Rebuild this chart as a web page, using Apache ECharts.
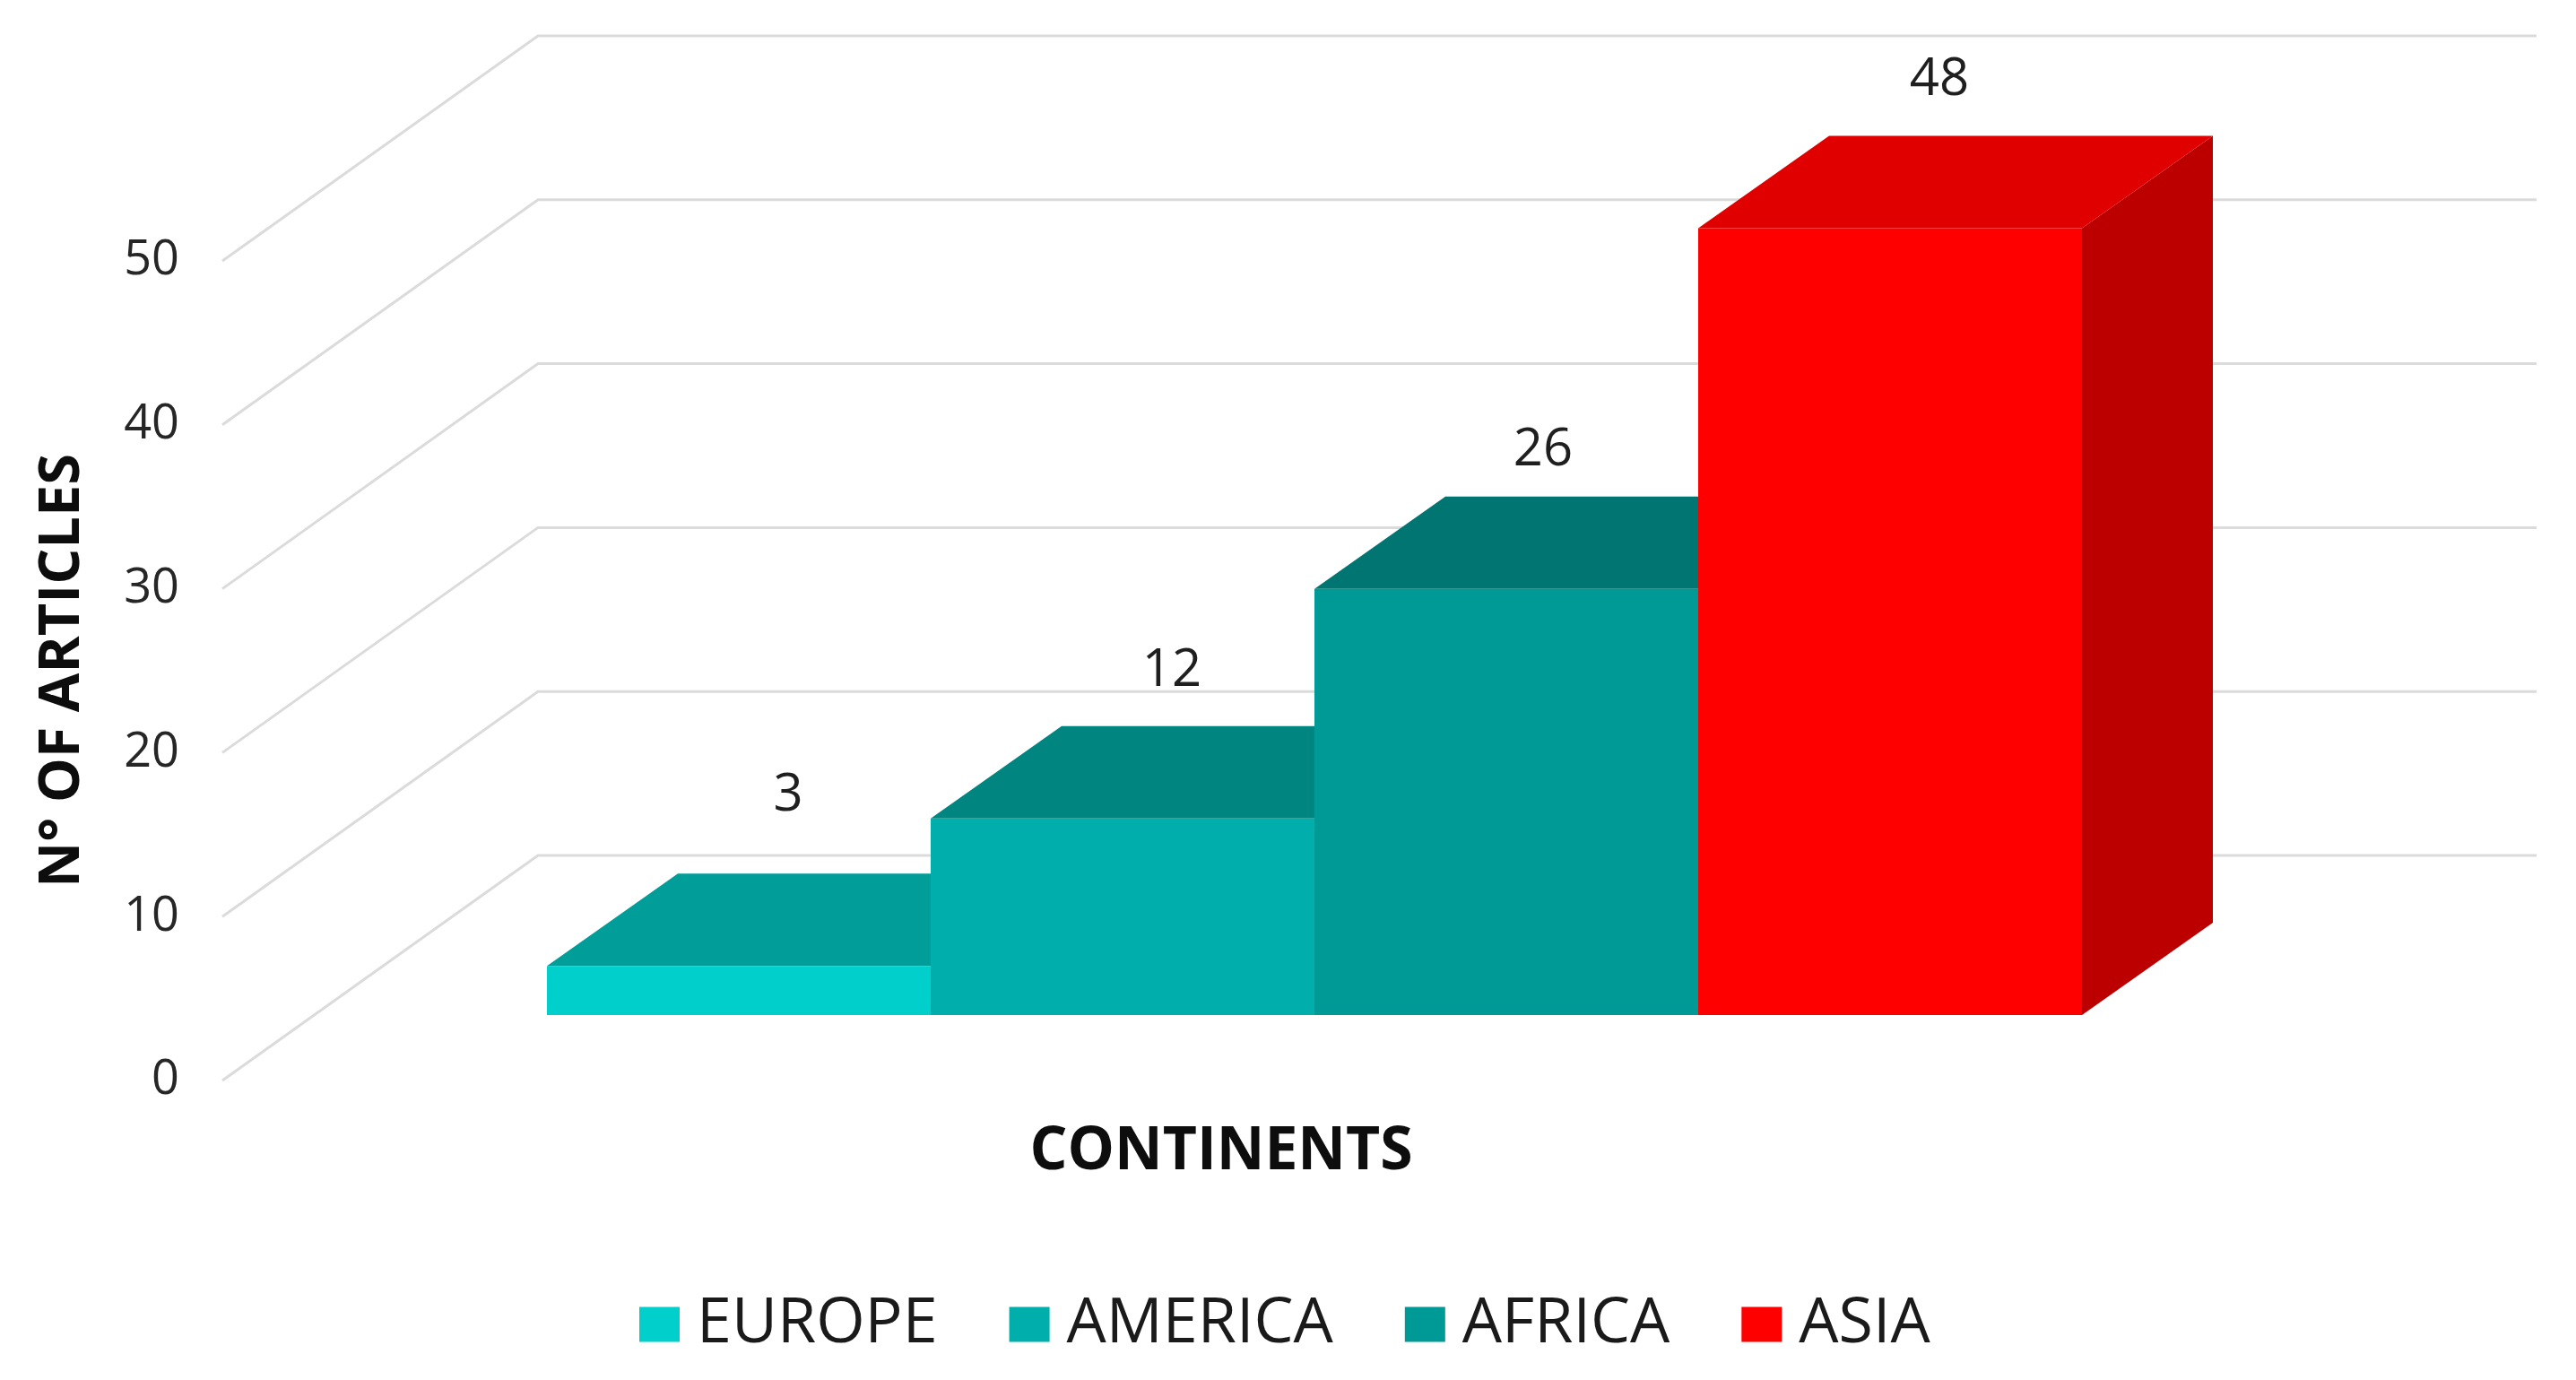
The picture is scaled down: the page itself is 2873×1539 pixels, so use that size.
<!DOCTYPE html>
<html>
<head>
<meta charset="utf-8">
<style>html,body{margin:0;padding:0;background:#fff}#chart{width:2873px;height:1539px}</style>
<script src="https://cdn.jsdelivr.net/npm/echarts@6/dist/echarts.min.js"></script>
</head>
<body>
<div id="chart"></div>
<script>
const categories = ['EUROPE', 'AMERICA', 'AFRICA', 'ASIA'];
const articleCounts = [3, 12, 26, 48];
const frontColors = ['#00CFCB', '#00AFAB', '#009A96', '#FF0000'];
const topColors = ['#009D99', '#008581', '#007571', '#E00000'];
const sideColors = ['#008F8B', '#007A77', '#006A67', '#BC0000'];
const gridTicks = [0, 10, 20, 30, 40, 50];
const labelLift = [87, 61, 51, 62];
const labelShift = [55, 55, 41, 55];

const FONT = '"Open Sans", "Noto Sans", sans-serif';
const barLift = 73;
const boxDx = 146, boxDy = 103;
const wallDx = 352, wallDy = 251;
const wallStart = 362, wallEnd = 507;

function renderWall(params, api) {
  const cs = params.coordSys;
  const y = api.coord([0, api.value(0)])[1];
  const x0 = cs.x - wallStart;
  return {
    type: 'polyline',
    silent: true,
    shape: { points: [[x0, y], [x0 + wallDx, y - wallDy], [cs.x + cs.width + wallEnd, y - wallDy]] },
    style: { stroke: '#DBDBDB', lineWidth: 3, fill: null }
  };
}

function renderBar(params, api) {
  const i = api.value(0), v = api.value(1);
  const center = api.coord([i, 0])[0];
  const band = api.size([1, 0])[0];
  const l = center - band / 2, r = center + band / 2;
  const base = api.coord([i, 0])[1] - barLift;
  const top = api.coord([i, v])[1] - barLift;
  const poly = (points, fill) => ({ type: 'polygon', shape: { points }, style: { fill } });
  return {
    type: 'group',
    children: [
      poly([[r, base], [r + boxDx, base - boxDy], [r + boxDx, top - boxDy], [r, top]], sideColors[i]),
      poly([[l, top], [r, top], [r + boxDx, top - boxDy], [l + boxDx, top - boxDy]], topColors[i]),
      poly([[l, base], [r, base], [r, top], [l, top]], frontColors[i]),
      {
        type: 'text',
        style: {
          text: String(v),
          x: center + labelShift[i],
          y: top - boxDy - labelLift[i],
          align: 'center',
          verticalAlign: 'middle',
          font: '58px ' + FONT,
          fill: '#1F1F1F'
        }
      }
    ]
  };
}

const barSeries = categories.map((name, i) => ({
  name,
  type: 'custom',
  coordinateSystem: 'cartesian2d',
  renderItem: renderBar,
  clip: false,
  z: 3 + i,
  itemStyle: { color: frontColors[i] },
  encode: { x: 0, y: 1 },
  data: [[i, articleCounts[i]]]
}));

const chart = echarts.init(document.getElementById('chart'));
chart.setOption({
  animation: false,
  backgroundColor: '#FFFFFF',
  grid: { left: 610, top: 291, width: 1712, height: 914, outerBoundsMode: 'none' },
  xAxis: {
    type: 'category',
    data: categories,
    axisLine: { show: false },
    axisTick: { show: false },
    axisLabel: { show: false },
    splitLine: { show: false },
    name: 'CONTINENTS',
    nameLocation: 'middle',
    nameGap: 47,
    nameTextStyle: {
      fontFamily: FONT, fontWeight: 'bold', fontSize: 66, color: '#0D0D0D',
      padding: [0, 208, 0, 0]
    }
  },
  yAxis: {
    type: 'value',
    min: 0,
    max: 50,
    interval: 10,
    axisLine: { show: false },
    axisTick: { show: false },
    splitLine: { show: false },
    axisLabel: { margin: 410, fontFamily: FONT, fontSize: 54, color: '#262626', padding: [6, 0, 0, 0] },
    name: 'N° OF ARTICLES',
    nameLocation: 'middle',
    nameRotate: 90,
    nameGap: 508,
    nameTextStyle: { fontFamily: FONT, fontWeight: 'bold', fontSize: 63, color: '#0D0D0D' }
  },
  legend: {
    data: categories,
    left: 708,
    top: 1437,
    icon: 'rect',
    itemWidth: 45,
    itemHeight: 39,
    itemGap: 80,
    selectedMode: false,
    textStyle: { fontFamily: FONT, fontSize: 70, color: '#1A1A1A', padding: [0, 0, 0, 14] }
  },
  series: [
    {
      name: 'grid',
      type: 'custom',
      coordinateSystem: 'cartesian2d',
      renderItem: renderWall,
      clip: false,
      silent: true,
      z: 1,
      encode: { y: 0 },
      data: gridTicks.map(t => [t])
    }
  ].concat(barSeries)
});
</script>
</body>
</html>
